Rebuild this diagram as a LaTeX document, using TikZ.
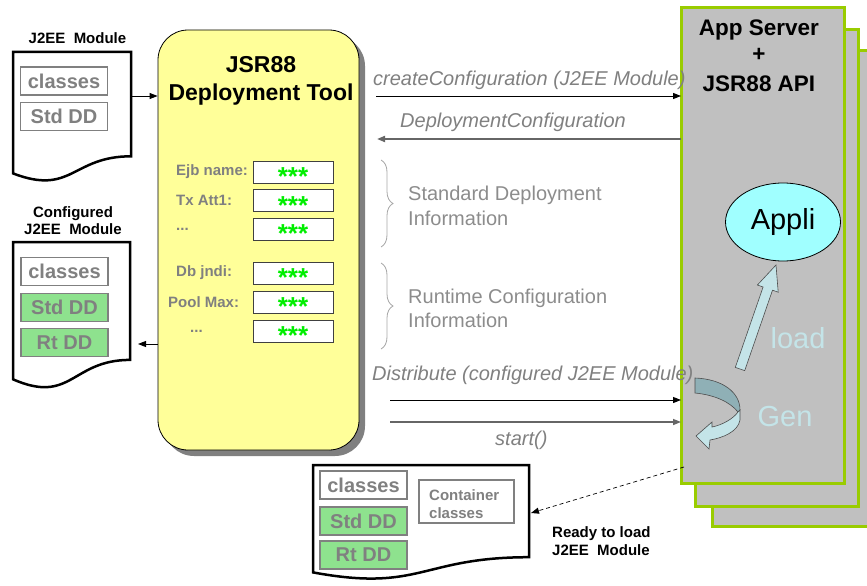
\documentclass[tikz,border=0pt]{standalone}
\usepackage{fontspec}
\setmainfont{Liberation Sans}
\usetikzlibrary{arrows.meta,shapes.geometric,shadows,decorations.pathreplacing}
\newcommand\fsz[2]{\fontsize{#1}{#2}\selectfont}
\definecolor{toolyellow}{HTML}{FFFF99}
\definecolor{ddgreen}{HTML}{8EE28E}
\definecolor{txtgray}{HTML}{808080}
\definecolor{srvgray}{HTML}{C0C0C0}
\definecolor{srvgreen}{HTML}{99CC00}
\definecolor{applicyan}{HTML}{A0FFFF}
\definecolor{lightteal}{HTML}{C4E4E8}
\definecolor{darkteal}{HTML}{8FB0B6}
\definecolor{starsgreen}{HTML}{00EE00}
\definecolor{bracegray}{HTML}{A6A6A6}
\definecolor{infogray}{HTML}{8C8C8C}
\tikzset{
  docshape/.style={draw=black, line width=2.5pt, fill=white, line join=miter},
  docbox/.style={draw=txtgray, line width=1.2pt, fill=white, minimum width=87pt, minimum height=28pt, inner sep=0pt, font=\fsz{20}{22}\bfseries, text=txtgray},
  greenbox/.style={docbox, fill=ddgreen},
  field/.style={draw=black!75, line width=1pt, fill=white, minimum width=80pt, minimum height=22pt, inner sep=0pt, text height=0pt, text depth=0pt, font=\fsz{26}{28}\bfseries, text=starsgreen},
  fieldlbl/.style={anchor=west, font=\fsz{15}{18}\bfseries, text=txtgray, inner sep=0pt},
  boldlbl/.style={font=\fsz{15}{18}\bfseries, text=black, inner sep=0pt},
  msg/.style={anchor=base west, font=\fsz{20}{24}\itshape, text=txtgray, inner sep=0pt},
  info/.style={anchor=base west, font=\fsz{20}{24}, text=infogray, inner sep=0pt},
  arr/.style={-{Triangle[length=8pt,width=6pt]}, line width=1pt},
  srv/.style={draw=srvgreen, line width=3pt, fill=srvgray, minimum width=163pt, minimum height=476pt, inner sep=0pt, outer sep=0pt},
  bracesty/.style={draw=bracegray, line width=0.8pt, decorate, decoration={brace, amplitude=12pt}},
  blockarr/.style={fill=lightteal, draw=black!70, line width=0.6pt, line join=miter}
}
\begin{document}
\begin{tikzpicture}[x=1pt,y=-1pt]
\useasboundingbox (0,0) rectangle (867,586);

% ---- App server stack ----
\node[srv] (back) at (793.5,288.5) {};
\node[srv] (mid) at (776.5,268) {};
\node[srv] (front) at (762.5,245.75) {};
\node[font=\fsz{22.5}{27}\bfseries, inner sep=0pt, anchor=base] (srvt1) at (759,36) {App Server};
\node[font=\fsz{22.5}{27}\bfseries, inner sep=0pt, anchor=base] (srvt2) at (759,61.5) {+};
\node[font=\fsz{22.5}{27}\bfseries, inner sep=0pt, anchor=base] (srvt3) at (759,91) {JSR88 API};
\node[ellipse, draw=black, line width=0.8pt, fill=applicyan, minimum width=115pt, minimum height=78pt, inner sep=0pt, font=\fsz{29}{32}] (appli) at (783,222) {Appli};
\node[font=\fsz{29}{32}, text=lightteal, inner sep=0pt] (load) at (798,338) {load};
\node[font=\fsz{29}{32}, text=lightteal, inner sep=0pt] (gen) at (785,417) {Gen};
% load block arrow
\draw[blockarr] (735.3,367.4) -- (763.1,287.0) -- (757.4,285.0) -- (776,265) -- (778.2,292.2) -- (772.5,290.2) -- (744.7,370.6) -- cycle;
% curved Gen arrow
\draw[blockarr, fill=darkteal] (695,378) .. controls (722,379) and (740,392) .. (740,410) -- (738,412) .. controls (730,402) and (715,395) .. (695,393) -- cycle;
\draw[blockarr] (738,412) -- (740,410) -- (740,420) .. controls (738,432) and (722,438) .. (710,440) -- (709,449) -- (696,436) -- (712,422) -- (712,427) .. controls (722,425) and (733,419) .. (738,412) -- cycle;

% ---- Deployment tool ----
\node[draw=black, line width=0.8pt, fill=toolyellow, rounded corners=30pt, minimum width=201pt, minimum height=420pt, inner sep=0pt,
  drop shadow={shadow xshift=6pt, shadow yshift=-6pt, fill=black!50, opacity=1}] (tool) at (258.5,240) {};
\node[font=\fsz{23}{27}\bfseries, inner sep=0pt, anchor=base] (toolt1) at (261,73) {JSR88};
\node[font=\fsz{23}{27}\bfseries, inner sep=0pt, anchor=base] (toolt2) at (261,100) {Deployment Tool};

\node[field] (f1) at (293,172) {\raisebox{-13.5pt}{***}};
\node[field] (f2) at (293,200.5) {\raisebox{-13.5pt}{***}};
\node[field] (f3) at (293,229) {\raisebox{-13.5pt}{***}};
\node[field] (f4) at (293,273) {\raisebox{-13.5pt}{***}};
\node[field] (f5) at (293,302) {\raisebox{-13.5pt}{***}};
\node[field] (f6) at (293,331) {\raisebox{-13.5pt}{***}};
\node[fieldlbl] (l1) at (176,172) {Ejb name:};
\node[fieldlbl] (l2) at (176,200.5) {Tx Att1:};
\node[fieldlbl] (l3) at (176,229) {...};
\node[fieldlbl] (l4) at (176,273) {Db jndi:};
\node[fieldlbl] (l5) at (168,302) {Pool Max:};
\node[fieldlbl] (l6) at (190,331) {...};

% ---- Documents ----
\node[boldlbl, anchor=base] (d1t) at (77.5,43.5) {J2EE\ \ Module};
\draw[docshape] (13,52) -- (131,52) -- (131,156.3) .. controls (72,156.3) and (72,196) .. (13,173.4) -- cycle;
\node[docbox] (d1c) at (64,81) {classes};
\node[docbox] (d1s) at (64,116.5) {Std DD};

\node[boldlbl, anchor=base] (d2t1) at (73,217.5) {Configured};
\node[boldlbl, anchor=base] (d2t2) at (73,234.5) {J2EE\ \ Module};
\draw[docshape] (13,242) -- (130,242) -- (130,359.9) .. controls (71.5,359.9) and (71.5,404.9) .. (13,379.3) -- cycle;
\node[docbox] (d2c) at (64.5,271.5) {classes};
\node[greenbox] (d2s) at (64.5,307.5) {Std DD};
\node[greenbox] (d2r) at (64.5,342.5) {Rt DD};

\draw[docshape] (313,465) -- (529,465) -- (529,557.2) .. controls (421,557.2) and (421,592.4) .. (313,572.4) -- cycle;
\node[docbox] (d3c) at (363.5,485) {classes};
\node[greenbox] (d3s) at (363.5,521) {Std DD};
\node[greenbox] (d3r) at (363.5,555) {Rt DD};
\node[docbox, minimum width=95pt, minimum height=43pt] (d3k) at (466.5,501.5) {};
\node[fieldlbl] (d3k1) at (429,495) {Container};
\node[fieldlbl] (d3k2) at (429,513) {classes};
\node[boldlbl, anchor=base west] (rdy1) at (552,537.5) {Ready to load};
\node[boldlbl, anchor=base west] (rdy2) at (552,555.5) {J2EE\ \ Module};

% ---- Braces and info ----
\draw[bracesty] (381,160) -- (381,247);
\draw[bracesty] (381,263) -- (381,349);
\node[info] (i1) at (408,200) {Standard Deployment};
\node[info] (i2) at (408,225) {Information};
\node[info] (i3) at (408,303) {Runtime Configuration};
\node[info] (i4) at (408,327) {Information};

% ---- Connectors ----
\coordinate (d1e) at (131,96);
\draw[arr] (d1e) -- (d1e -| tool.west);
\coordinate (d2e) at (138,344);
\draw[arr] (d2e -| tool.west) -- (d2e);
\coordinate (cfgS) at (376,96);
\draw[arr] (cfgS) -- (cfgS -| front.west);
\coordinate (dcE) at (377,139);
\draw[arr, draw=black!60, line width=1.8pt] (dcE -| front.west) -- (dcE);
\coordinate (distS) at (390,400);
\draw[arr] (distS) -- (distS -| front.west);
\coordinate (startS) at (390,422);
\draw[arr, draw=black!60, line width=1.4pt] (startS) -- (startS -| front.west);
\coordinate (srvdash) at (684,467);
\coordinate (d3e) at (531,513);
\draw[arr, dash pattern=on 4pt off 3pt, line width=0.7pt] (srvdash) -- (d3e);

\node[msg] (m1) at (373,85) {createConfiguration (J2EE Module)};
\node[msg] (m2) at (400,127) {DeploymentConfiguration};
\node[msg] (m3) at (372,380) {Distribute (configured J2EE Module)};
\node[msg] (m4) at (495,445) {start()};
\end{tikzpicture}
\end{document}
